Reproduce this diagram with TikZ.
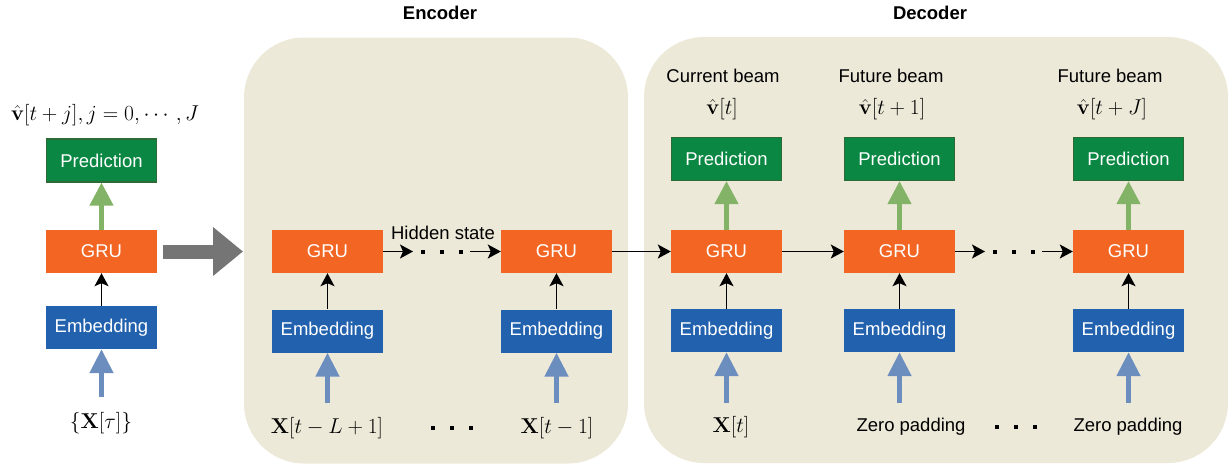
\documentclass[tikz,border=0pt]{standalone}
\usepackage{fix-cm}
\usepackage{amsmath}
\usepackage[no-math]{fontspec}
\newfontfamily\labelfont{Liberation Sans}
\usetikzlibrary{arrows.meta}

\definecolor{panelfill}{HTML}{EDE9D9}
\definecolor{grufill}{HTML}{F26522}
\definecolor{embfill}{HTML}{2161AE}
\definecolor{predfill}{HTML}{0A8743}
\definecolor{predline}{HTML}{2E6A35}
\definecolor{greenarr}{HTML}{82B366}
\definecolor{bluearr}{HTML}{6C8EBF}
\definecolor{bigarr}{HTML}{757575}

\begin{document}
\begin{tikzpicture}[x=1pt,y=-1pt,
  panelbox/.style={fill=panelfill, rounded corners=60pt, inner sep=0pt},
  box/.style={minimum width=111pt, minimum height=43pt, inner sep=0pt,
    text=white, font=\labelfont\fontsize{18.5}{22}\selectfont},
  gru/.style={box, fill=grufill},
  emb/.style={box, fill=embfill},
  pred/.style={box, fill=predfill, draw=predline, line width=1.2pt,
    minimum width=110pt, minimum height=43pt},
  lbl/.style={inner sep=0pt, font=\labelfont\fontsize{18.5}{22}\selectfont},
  ttl/.style={inner sep=0pt, font=\labelfont\bfseries\fontsize{18.5}{22}\selectfont},
  mlbl/.style={inner sep=0pt, font=\fontsize{21.5}{26}\selectfont},
  flow/.style={-{Stealth[length=13pt,width=14pt,inset=3pt]}, line width=1.5pt},
  greenup/.style={draw=greenarr, line width=4.5pt, -{Triangle[length=23pt,width=23pt]}},
  blueup/.style={draw=bluearr, line width=5pt, -{Triangle[length=24pt,width=23pt]}},
  bigright/.style={draw=bigarr, line width=14pt, -{Triangle[length=30pt,width=47pt]}},
  dotrun/.style={line width=4pt, dash pattern=on 4pt off 15pt}
]
\useasboundingbox (0,0) rectangle (1230,464);

% background panels and titles
\node[panelbox, minimum width=384pt, minimum height=426pt] (encpanel) at (436,250.5) {};
\node[panelbox, minimum width=584pt, minimum height=426pt] (decpanel) at (936,250) {};
\node[ttl] (enctitle) at (440,13) {Encoder};
\node[ttl] (dectitle) at (930,13) {Decoder};

% single-cell model on the left
\node[pred] (lp) at (101.5,160.5) {Prediction};
\node[gru]  (lg) at (101.5,251.5) {GRU};
\node[emb]  (le) at (101.5,327.5) {Embedding};
\node[mlbl] (lout) at (105,115) {$\hat{\mathbf{v}}[t+j], j=0,\cdots,J$};
\node[mlbl] (lin) at (101,423) {$\{\mathbf{X}[\tau]\}$};
\coordinate (linb) at (101.5,397);
\draw[flow] (le.north) -- (lg.south);
\draw[greenup] (lg.north) -- (lp.south);
\draw[blueup] (linb) -- (le.south);
\coordinate (bigtip) at (243,251.5);
\draw[bigright, shorten <=6pt] (lg.east) -- (bigtip);

% encoder
\node[gru] (eg1) at (327.5,251.5) {GRU};
\node[gru] (eg2) at (556.5,251.5) {GRU};
\node[emb] (ee1) at (327.5,331) {Embedding};
\node[emb] (ee2) at (556.5,331) {Embedding};
\node[mlbl] (ex1) at (327,428) {$\mathbf{X}[t-L+1]$};
\node[mlbl] (ex2) at (557,428) {$\mathbf{X}[t-1]$};
\node[lbl] (hidden) at (443,233) {Hidden state};
\coordinate (eb1) at (327.5,403);
\coordinate (eb2) at (556.5,403);
\draw[blueup] (eb1) -- (ee1.south);
\draw[blueup] (eb2) -- (ee2.south);
\draw[flow] (ee1.north) -- (eg1.south);
\draw[flow] (ee2.north) -- (eg2.south);
\coordinate (eh1) at (413,251.5);
\coordinate (eh2) at (421,251.5);
\coordinate (eh3) at (463,251.5);
\coordinate (eh4) at (470,251.5);
\draw[flow] (eg1.east) -- (eh1);
\draw[dotrun] (eh2) -- (eh3);
\draw[flow] (eh4) -- (eg2.west);
\coordinate (es1) at (431,428);
\coordinate (es2) at (473,428);
\draw[dotrun] (es1) -- (es2);

% decoder
\node[pred] (dp1) at (726.5,159) {Prediction};
\node[pred] (dp2) at (899.5,159) {Prediction};
\node[pred] (dp3) at (1128.5,159) {Prediction};
\node[gru] (dg1) at (726.5,251.5) {GRU};
\node[gru] (dg2) at (899.5,251.5) {GRU};
\node[gru] (dg3) at (1128.5,251.5) {GRU};
\node[emb] (de1) at (726.5,330.5) {Embedding};
\node[emb] (de2) at (899.5,330.5) {Embedding};
\node[emb] (de3) at (1128.5,330.5) {Embedding};
\node[lbl] (cb1) at (723,76) {Current beam};
\node[lbl] (cb2) at (891,76) {Future beam};
\node[lbl] (cb3) at (1110,76) {Future beam};
\node[mlbl] (v1) at (722,109) {$\hat{\mathbf{v}}[t]$};
\node[mlbl] (v2) at (892,109) {$\hat{\mathbf{v}}[t+1]$};
\node[mlbl] (v3) at (1112,109) {$\hat{\mathbf{v}}[t+J]$};
\node[mlbl] (dx1) at (731,427) {$\mathbf{X}[t]$};
\node[lbl] (dz2) at (911,427) {Zero padding};
\node[lbl] (dz3) at (1128,427) {Zero padding};
\coordinate (db1) at (726.5,403);
\coordinate (db2) at (899.5,403);
\coordinate (db3) at (1128.5,403);
\foreach \i in {1,2,3} {
  \draw[blueup] (db\i) -- (de\i.south);
  \draw[flow] (de\i.north) -- (dg\i.south);
  \draw[greenup] (dg\i.north) -- (dp\i.south);
}
\draw[flow] (eg2.east) -- (dg1.west);
\draw[flow] (dg1.east) -- (dg2.west);
\coordinate (dh1) at (985,251.5);
\coordinate (dh2) at (993,251.5);
\coordinate (dh3) at (1035,251.5);
\coordinate (dh4) at (1042,251.5);
\draw[flow] (dg2.east) -- (dh1);
\draw[dotrun] (dh2) -- (dh3);
\draw[flow] (dh4) -- (dg3.west);
\coordinate (ds1) at (995,427);
\coordinate (ds2) at (1037,427);
\draw[dotrun] (ds1) -- (ds2);
\end{tikzpicture}
\end{document}
